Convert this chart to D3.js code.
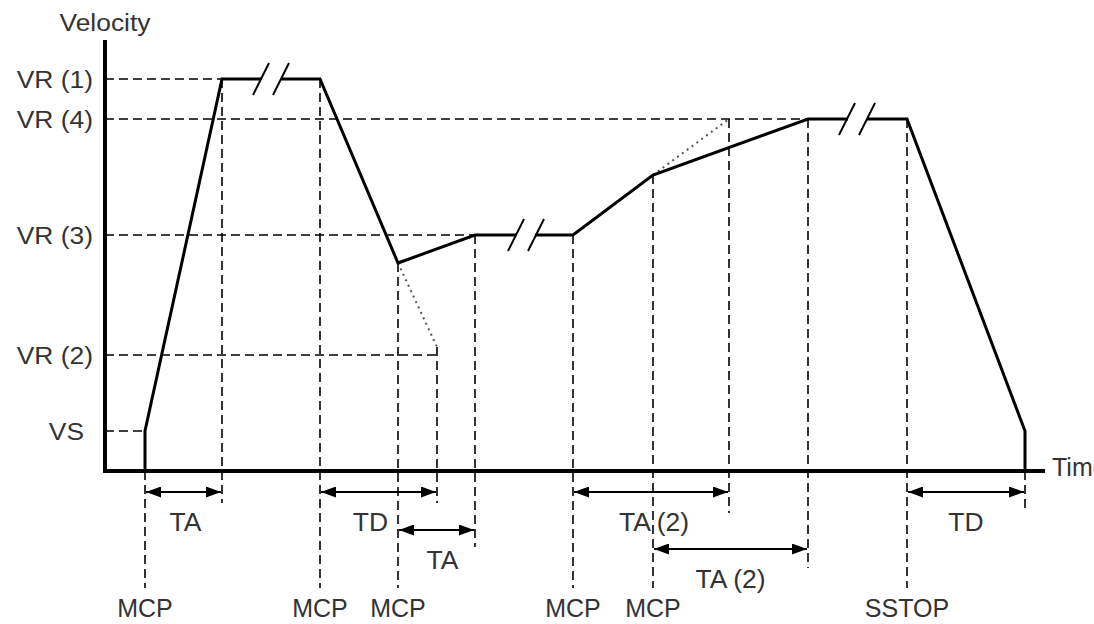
<!DOCTYPE html>
<html>
<head>
<meta charset="utf-8">
<script src="https://cdn.jsdelivr.net/npm/d3@7"></script>
<style>
  body { margin: 0; background: #fff; }
  svg text { font-family: "Liberation Sans", Arial, sans-serif; fill: #333; }
</style>
</head>
<body>
<div id="chart"></div>
<script>
// velocity levels (arbitrary units) and their names
const levelNames = ["VS", "VR (2)", "VR (3)", "VR (4)", "VR (1)"];
const levelValues = [10, 29, 59, 88, 98];
const levelEnds = [40, 332, 370, 703, 117];   // time where each dashed guide stops

// velocity profile, null = axis break
const profileTime = [40, 40, 117, 156, null, 176, 215, 293, 370, 411, null, 430, 468, 548, 703, 743, null, 762, 802, 920, 920];
const profileVel  = [0, 10, 98, 98, null, 98, 98, 52, 59, 59, null, 59, 59, 74, 88, 88, null, 88, 88, 10, 0];
const breakTimes = [166, 421, 752];
const breakVels = [98, 59, 88];

// dotted "would-be" ramps
const dottedFromT = [293, 548], dottedFromV = [52, 74];
const dottedToT = [332, 624], dottedToV = [31, 88];

// vertical guides: time, top velocity
const guideTime = [40, 117, 215, 293, 332, 370, 468, 548, 624, 703, 802, 920];
const guideTop  = [0, 98, 98, 52, 31, 59, 59, 74, 88, 88, 88, 0];

// timing arrows
const arrowFrom = [40, 215, 293, 468, 548, 802];
const arrowTo   = [117, 332, 370, 624, 703, 920];
const arrowLabels = ["TA", "TD", "TA", "TA (2)", "TA (2)", "TD"];

// event names under the axis
const eventTime = [40, 215, 293, 468, 548, 802];
const eventNames = ["MCP", "MCP", "MCP", "MCP", "MCP", "SSTOP"];

const width = 1094, height = 624;
const x = d3.scaleLinear().domain([0, 940]).range([105, 1045]);
const y = d3.scaleLinear().domain([0, 100]).range([471, 71]);
const base = y(0);

// layout below the axis
const arrowRow = [21, 21, 59, 21, 78, 21];
const arrowLabelDx = [2, -8, 6, 3, 0, 0];
const guideBottom = [588, 503, 588, 588, 503, 547, 588, 588, 513, 568, 588, 510];

const svg = d3.select("#chart").append("svg")
  .attr("width", width)
  .attr("height", height);

const defs = svg.append("defs");
defs.append("marker")
  .attr("id", "head")
  .attr("viewBox", "0 0 15 11")
  .attr("refX", 15).attr("refY", 5.5)
  .attr("markerWidth", 15).attr("markerHeight", 11)
  .attr("markerUnits", "userSpaceOnUse")
  .attr("orient", "auto-start-reverse")
  .append("path")
  .attr("d", "M0,0L15,5.5L0,11Z")
  .attr("fill", "#000");

// horizontal dashed guides
svg.selectAll(".hguide")
  .data(levelValues)
  .enter().append("line")
  .attr("x1", x(0)).attr("x2", (d, i) => x(levelEnds[i]))
  .attr("y1", d => y(d)).attr("y2", d => y(d))
  .attr("stroke", "#000").attr("stroke-width", 1.6)
  .attr("stroke-dasharray", "9,5");

// vertical dashed guides
svg.selectAll(".vguide")
  .data(guideTime)
  .enter().append("line")
  .attr("x1", d => x(d)).attr("x2", d => x(d))
  .attr("y1", (d, i) => y(guideTop[i])).attr("y2", (d, i) => guideBottom[i])
  .attr("stroke", "#000").attr("stroke-width", 1.6)
  .attr("stroke-dasharray", "9,5");

// dotted ramps
svg.selectAll(".dotted")
  .data(dottedFromT)
  .enter().append("line")
  .attr("x1", d => x(d)).attr("y1", (d, i) => y(dottedFromV[i]))
  .attr("x2", (d, i) => x(dottedToT[i])).attr("y2", (d, i) => y(dottedToV[i]))
  .attr("stroke", "#555").attr("stroke-width", 2)
  .attr("stroke-dasharray", "2,4");

// axes
svg.append("line")
  .attr("x1", x(0)).attr("x2", x(0))
  .attr("y1", 40).attr("y2", base + 2)
  .attr("stroke", "#000").attr("stroke-width", 4);
svg.append("line")
  .attr("x1", x(0) - 2).attr("x2", x(940))
  .attr("y1", base).attr("y2", base)
  .attr("stroke", "#000").attr("stroke-width", 4);

// profile
const pts = profileTime.map((t, i) => [t, profileVel[i]]);
const line = d3.line()
  .defined(d => d[0] !== null)
  .x(d => x(d[0]))
  .y(d => y(d[1]));
svg.append("path")
  .attr("d", line(pts))
  .attr("fill", "none")
  .attr("stroke", "#000")
  .attr("stroke-width", 3)
  .attr("stroke-linejoin", "miter");

// break marks "//"
breakTimes.forEach((t, i) => {
  const cy = y(breakVels[i]);
  [-10, 10].forEach(off => {
    const cx = x(t) + off;
    svg.append("line")
      .attr("x1", cx - 8).attr("y1", cy + 16)
      .attr("x2", cx + 8).attr("y2", cy - 16)
      .attr("stroke", "#000").attr("stroke-width", 2);
  });
});

// timing arrows
svg.selectAll(".arrow")
  .data(arrowFrom)
  .enter().append("line")
  .attr("x1", d => x(d) + 1).attr("x2", (d, i) => x(arrowTo[i]) - 1)
  .attr("y1", (d, i) => base + arrowRow[i]).attr("y2", (d, i) => base + arrowRow[i])
  .attr("stroke", "#000").attr("stroke-width", 2)
  .attr("marker-start", "url(#head)")
  .attr("marker-end", "url(#head)");

svg.selectAll(".alabel")
  .data(arrowLabels)
  .enter().append("text")
  .attr("transform", (d, i) => `translate(${(x(arrowFrom[i]) + x(arrowTo[i])) / 2 + arrowLabelDx[i]},${base + arrowRow[i] + 39}) scale(1.06,1)`)
  .attr("text-anchor", "middle")
  .style("font-size", "25px")
  .text(d => d);

// event labels
svg.selectAll(".elabel")
  .data(eventNames)
  .enter().append("text")
  .attr("x", (d, i) => x(eventTime[i]))
  .attr("y", 617)
  .attr("text-anchor", "middle")
  .style("font-size", "25px")
  .text(d => d);

// level labels
svg.selectAll(".llabel")
  .data(levelNames)
  .enter().append("text")
  .attr("transform", (d, i) => `translate(${d === "VS" ? 84 : 93},${y(levelValues[i]) + 9}) scale(1.1,1)`)
  .attr("text-anchor", "end")
  .style("font-size", "24px")
  .text(d => d);

// axis titles
svg.append("text")
  .attr("transform", `translate(${x(0)},31) scale(1.1,1)`)
  .attr("text-anchor", "middle")
  .style("font-size", "24px")
  .text("Velocity");
svg.append("text")
  .attr("x", 1052).attr("y", base + 5)
  .style("font-size", "25px")
  .text("Time");
</script>
</body>
</html>
